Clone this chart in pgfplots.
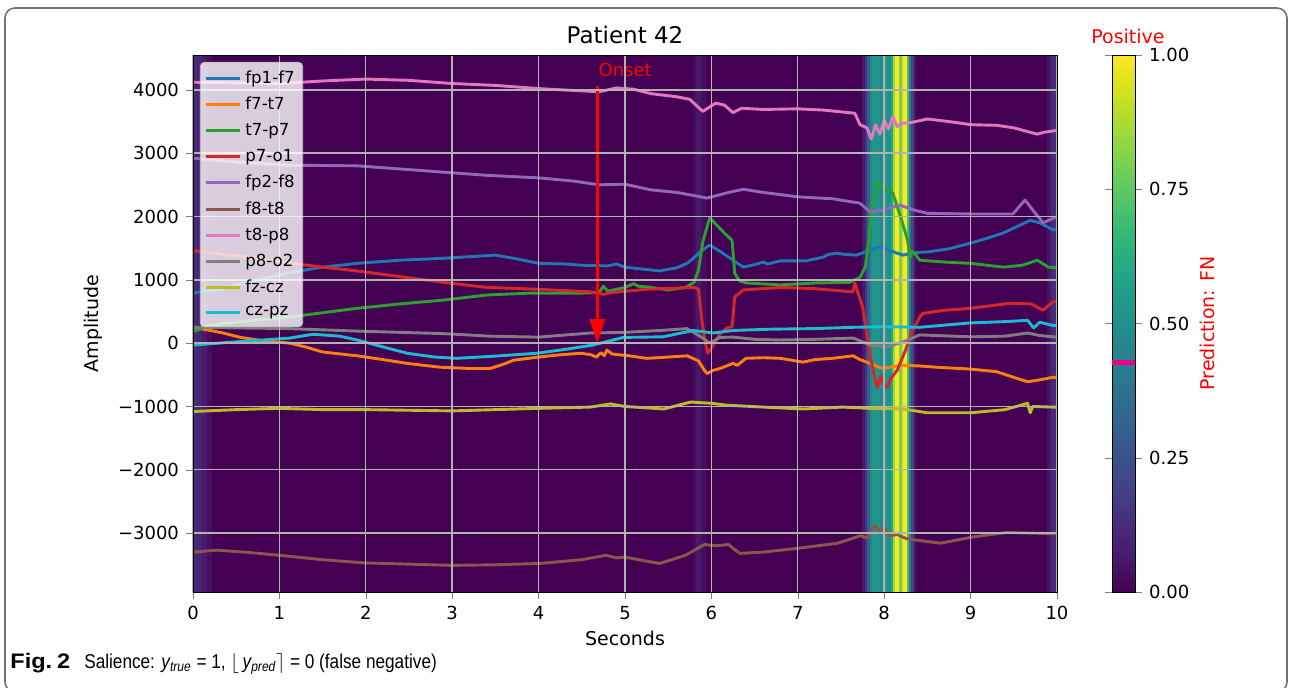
\documentclass[border=0pt]{standalone}
\usepackage{fontspec}
\setmainfont{DejaVu Sans}
\newfontfamily\capfont{Liberation Sans}[FakeStretch=0.86]
\newfontfamily\capbold{Liberation Sans Bold}[FakeStretch=1.12]
\usepackage{pgfplots}
\pgfplotsset{compat=1.18}
\usetikzlibrary{arrows.meta}

\definecolor{cblue}{HTML}{1F77B4}
\definecolor{corange}{HTML}{FF7F0E}
\definecolor{cgreen}{HTML}{2CA02C}
\definecolor{cred}{HTML}{D62728}
\definecolor{cpurple}{HTML}{9467BD}
\definecolor{cbrown}{HTML}{8C564B}
\definecolor{cpink}{HTML}{E377C2}
\definecolor{cgray}{HTML}{7F7F7F}
\definecolor{colive}{HTML}{BCBD22}
\definecolor{ccyan}{HTML}{17BECF}

\begin{document}
\begin{tikzpicture}
\useasboundingbox (-96.5pt,-47.5pt) rectangle (549.5pt,296pt);
\begin{axis}[
    axis on top,
    scale only axis,
    width=432pt, height=268.5pt,
    xmin=0, xmax=10, ymin=-3930, ymax=4550,
    xtick={0,1,...,10},
    ytick={-3000,-2000,-1000,0,1000,2000,3000,4000},
    yticklabels={−3000,−2000,−1000,0,1000,2000,3000,4000},
    /pgf/number format/assume math mode=true,
    tick label style={font=\fontsize{9}{11}\selectfont},
    tick align=outside, tick pos=left,
    major tick length=3.5pt,
    grid=major,
    major grid style={color=black!30, line width=0.7pt},
    title={Patient 42},
    title style={font=\fontsize{11.5}{13}\selectfont, at={(axis description cs:0.5,1.0149)}, anchor=center},
    xlabel={Seconds},
    xlabel style={font=\fontsize{9.5}{11}\selectfont, at={(axis description cs:0.5,-0.0857)}, anchor=center},
    ylabel={Amplitude},
    ylabel style={font=\fontsize{9.5}{11}\selectfont, at={(axis description cs:-0.1157,0.5)}, anchor=center},
    colormap/viridis,
    point meta min=0, point meta max=1,
    colorbar,
    colorbar style={
        at={(parent axis.north east)}, anchor=north west, xshift=19pt,
        width=11.5pt,
        ytick={0,0.25,0.5,0.75,1},
        yticklabels={0.00,0.25,0.50,0.75,1.00},
        tick align=outside, major tick length=3.5pt,
        yticklabel pos=right,
        tick label style={font=\fontsize{9}{11}\selectfont},
        ylabel={Prediction: FN},
        ylabel style={text=red, font=\fontsize{9.5}{11}\selectfont, at={(axis description cs:4.13,0.5)}, anchor=center},
    },
    legend style={at={(axis description cs:0.008,0.987)}, anchor=north west,
        font=\fontsize{8.3}{10}\selectfont, fill=white, fill opacity=0.8,
        draw opacity=1, text opacity=1, draw=black!25, rounded corners=2pt,
        row sep=1.4pt, inner sep=2pt},
    legend cell align=left,
    every axis plot/.append style={line width=1.45pt, line join=round},
]

% salience map behind the traces
\addplot[surf, shader=flat corner, mesh/cols=31,
    point meta=explicit, forget plot] coordinates {
(0,-3930) [0.12] (0.06,-3930) [0.10] (0.12,-3930) [0.07] (0.18,-3930) [0.03]
(0.24,-3930) [0] (5.8,-3930) [0.03] (5.84,-3930) [0.06] (5.9,-3930) [0.03]
(5.95,-3930) [0] (7.76,-3930) [0.06] (7.79,-3930) [0.15] (7.82,-3930) [0.3]
(7.85,-3930) [0.45] (7.87,-3930) [0.52] (7.97,-3930) [0.47] (8.0,-3930) [0.55]
(8.05,-3930) [0.5] (8.1,-3930) [0.6] (8.12,-3930) [0.85] (8.14,-3930) [1.0]
(8.19,-3930) [0.8] (8.22,-3930) [0.9] (8.235,-3930) [1.0] (8.28,-3930) [0.7]
(8.3,-3930) [0.4] (8.33,-3930) [0.2] (8.36,-3930) [0.05] (8.39,-3930) [0]
(9.9,-3930) [0.05] (9.95,-3930) [0.12] (10,-3930) [0.15]
(0,4550) [0.12] (0.06,4550) [0.10] (0.12,4550) [0.07] (0.18,4550) [0.03]
(0.24,4550) [0] (5.8,4550) [0.03] (5.84,4550) [0.06] (5.9,4550) [0.03]
(5.95,4550) [0] (7.76,4550) [0.06] (7.79,4550) [0.15] (7.82,4550) [0.3]
(7.85,4550) [0.45] (7.87,4550) [0.52] (7.97,4550) [0.47] (8.0,4550) [0.55]
(8.05,4550) [0.5] (8.1,4550) [0.6] (8.12,4550) [0.85] (8.14,4550) [1.0]
(8.19,4550) [0.8] (8.22,4550) [0.9] (8.235,4550) [1.0] (8.28,4550) [0.7]
(8.3,4550) [0.4] (8.33,4550) [0.2] (8.36,4550) [0.05] (8.39,4550) [0]
(9.9,4550) [0.05] (9.95,4550) [0.12] (10,4550) [0.15]
};

% fp1-f7
\addplot[cblue] coordinates {(0,790) (0.3,850) (0.7,980) (1.1,1110) (1.5,1200) (1.9,1260) (2.4,1310) (2.9,1340) (3.2,1365) (3.5,1390) (3.75,1330) (4.0,1260) (4.3,1250) (4.5,1230) (4.8,1220) (4.9,1250) (5.0,1200) (5.2,1170) (5.4,1140) (5.6,1190) (5.72,1260) (5.8,1350) (5.87,1440) (5.98,1550) (6.1,1450) (6.25,1310) (6.37,1200) (6.5,1240) (6.6,1280) (6.65,1250) (6.8,1300) (7.1,1300) (7.3,1360) (7.35,1400) (7.45,1420) (7.55,1400) (7.68,1390) (7.8,1450) (7.95,1520) (8.05,1470) (8.15,1420) (8.22,1390) (8.35,1430) (8.5,1440) (8.75,1490) (9.0,1580) (9.2,1660) (9.38,1740) (9.55,1850) (9.69,1940) (9.8,1900) (9.9,1830) (9.95,1790) (10,1800)};
% f7-t7
\addplot[corange] coordinates {(0,250) (0.2,200) (0.35,160) (0.55,90) (0.8,40) (1.12,0) (1.3,-60) (1.5,-140) (1.9,-200) (2.2,-260) (2.48,-320) (2.86,-380) (3.2,-400) (3.44,-400) (3.6,-330) (3.71,-270) (4.0,-220) (4.2,-190) (4.48,-160) (4.6,-180) (4.67,-220) (4.72,-150) (4.76,-200) (4.79,-110) (4.85,-170) (4.9,-180) (5.05,-200) (5.25,-240) (5.5,-220) (5.72,-200) (5.85,-280) (5.92,-430) (5.95,-480) (6.02,-430) (6.1,-400) (6.25,-320) (6.3,-350) (6.4,-240) (6.6,-230) (6.8,-240) (7.06,-300) (7.2,-260) (7.4,-240) (7.64,-200) (7.72,-260) (7.84,-320) (7.92,-370) (7.99,-400) (8.1,-370) (8.22,-350) (8.4,-360) (8.6,-380) (9.0,-410) (9.3,-450) (9.5,-540) (9.66,-610) (9.8,-580) (9.95,-540) (10,-540)};
% t7-p7
\addplot[cgreen] coordinates {(0,180) (0.15,260) (0.35,310) (0.7,360) (1.1,410) (1.5,480) (1.9,550) (2.4,620) (2.9,680) (3.4,760) (3.9,790) (4.5,790) (4.7,800) (4.75,900) (4.8,820) (5.0,880) (5.1,940) (5.15,900) (5.3,880) (5.5,840) (5.7,880) (5.8,960) (5.85,1150) (5.9,1600) (5.98,1980) (6.05,1880) (6.15,1740) (6.24,1620) (6.27,1100) (6.33,980) (6.41,950) (6.8,920) (7.2,950) (7.6,960) (7.72,1040) (7.78,1200) (7.82,1600) (7.86,2200) (7.92,2540) (8.0,2450) (8.1,2370) (8.2,1950) (8.27,1630) (8.3,1350) (8.32,1450) (8.35,1420) (8.41,1310) (8.7,1280) (9.0,1260) (9.38,1200) (9.6,1230) (9.77,1310) (9.9,1200) (10,1190)};
% p7-o1
\addplot[cred] coordinates {(0,1460) (0.5,1380) (1.1,1270) (1.5,1200) (1.9,1140) (2.4,1050) (2.9,960) (3.4,880) (4.0,850) (4.6,810) (4.75,770) (4.85,800) (5.25,850) (5.8,880) (5.85,850) (5.89,360) (5.93,0) (5.96,-160) (6.02,-30) (6.1,150) (6.18,240) (6.24,260) (6.27,730) (6.37,840) (6.8,880) (7.2,860) (7.64,810) (7.66,950) (7.75,570) (7.84,-220) (7.9,-600) (7.92,-700) (7.96,-520) (7.99,-640) (8.03,-700) (8.08,-550) (8.15,-430) (8.25,-100) (8.33,200) (8.41,410) (8.45,470) (8.7,520) (9.0,550) (9.46,630) (9.7,620) (9.84,520) (9.95,650) (10,660)};
% fp2-f8
\addplot[cpurple] coordinates {(0,2920) (0.5,2860) (1.1,2810) (1.9,2800) (2.4,2750) (2.9,2700) (3.4,2650) (4.0,2610) (4.4,2560) (4.7,2500) (5.0,2510) (5.3,2420) (5.6,2380) (5.8,2330) (5.95,2290) (6.2,2380) (6.37,2430) (6.6,2380) (7.0,2310) (7.4,2280) (7.72,2210) (7.84,2070) (8.0,2110) (8.18,2180) (8.35,2100) (8.5,2050) (9.0,2040) (9.49,2040) (9.63,2260) (9.75,2050) (9.84,1900) (9.95,1970) (10,2000)};
% f8-t8
\addplot[cbrown] coordinates {(0,-3300) (0.27,-3270) (0.6,-3300) (1.0,-3350) (1.5,-3420) (1.98,-3470) (2.5,-3490) (3.0,-3510) (3.5,-3500) (4.0,-3480) (4.5,-3420) (4.78,-3350) (4.9,-3390) (5.0,-3380) (5.2,-3430) (5.4,-3480) (5.7,-3350) (5.92,-3180) (6.05,-3200) (6.2,-3180) (6.25,-3240) (6.33,-3320) (6.6,-3300) (7.0,-3240) (7.46,-3160) (7.73,-3040) (7.8,-3080) (7.85,-2950) (7.9,-2880) (7.95,-3000) (8.0,-2900) (8.05,-3050) (8.15,-3020) (8.26,-3090) (8.65,-3160) (9.03,-3060) (9.42,-2990) (9.7,-3000) (9.95,-3010) (10,-3010)};
% t8-p8
\addplot[cpink] coordinates {(0,4120) (0.5,4110) (1.0,4100) (1.5,4140) (2.0,4170) (2.5,4150) (3.0,4100) (3.5,4070) (4.0,4020) (4.4,3990) (4.7,3970) (4.9,4030) (5.1,4010) (5.3,3940) (5.6,3890) (5.75,3850) (5.9,3660) (6.05,3790) (6.15,3760) (6.25,3640) (6.35,3710) (6.6,3690) (7.0,3700) (7.3,3680) (7.66,3630) (7.72,3450) (7.8,3400) (7.85,3220) (7.9,3450) (7.95,3300) (8.0,3520) (8.05,3380) (8.1,3580) (8.15,3420) (8.2,3470) (8.3,3480) (8.5,3540) (8.8,3490) (9.0,3450) (9.3,3440) (9.5,3400) (9.77,3300) (9.85,3330) (10,3360)};
% p8-o2
\addplot[cgray] coordinates {(0,250) (0.5,240) (1.1,230) (1.9,190) (2.4,170) (2.9,150) (3.44,110) (4.0,95) (4.6,160) (5.0,170) (5.4,200) (5.72,230) (5.89,90) (5.98,0) (6.1,90) (6.25,95) (6.5,60) (6.8,50) (7.2,60) (7.64,80) (7.84,-30) (8.03,-60) (8.22,20) (8.41,130) (9.0,100) (9.4,110) (9.66,160) (9.8,120) (9.95,100) (10,100)};
% fz-cz
\addplot[colive] coordinates {(0,-1080) (0.5,-1050) (1.0,-1030) (1.5,-1050) (2.0,-1050) (2.5,-1060) (3.0,-1070) (3.5,-1050) (4.0,-1030) (4.6,-1010) (4.83,-960) (5.0,-1000) (5.45,-1040) (5.76,-930) (6.0,-950) (6.18,-980) (6.6,-1010) (7.06,-1040) (7.52,-1010) (7.83,-1030) (8.22,-1040) (8.5,-1100) (9.0,-1100) (9.4,-1050) (9.66,-950) (9.69,-1100) (9.72,-1000) (9.95,-1010) (10,-1010)};
% cz-pz
\addplot[ccyan] coordinates {(0,-30) (0.5,20) (1.12,80) (1.39,140) (1.7,110) (1.9,50) (2.2,-60) (2.48,-160) (2.8,-220) (3.05,-240) (3.44,-210) (3.98,-160) (4.3,-100) (4.63,-30) (4.98,90) (5.44,100) (5.79,200) (6.02,160) (6.25,200) (6.68,220) (7.2,230) (7.64,250) (8.0,260) (8.41,250) (9.0,320) (9.4,340) (9.66,360) (9.7,290) (9.73,240) (9.8,330) (9.95,280) (10,280)};
\legend{fp1-f7,f7-t7,t7-p7,p7-o1,fp2-f8,f8-t8,t8-p8,p8-o2,fz-cz,cz-pz}

\draw[red, line width=1.5pt, -{Triangle[length=12pt,width=7.5pt]}] (axis cs:4.68,4060) -- (axis cs:4.68,0);
\node[text=red, anchor=west, font=\fontsize{9}{11}\selectfont, inner sep=0pt] at (axis cs:4.69,4310) {Onset};
\end{axis}

% colorbar extras (colorbar box spans x 459.5pt..471pt)
\draw[magenta, line width=2.3pt] (459.5pt,114.9pt) -- (471pt,114.9pt);
\node[text=red, font=\fontsize{9.5}{11}\selectfont] at (467.5pt,278pt) {Positive};

\draw[black!55, line width=0.8pt, rounded corners=5pt] (-94pt,-50pt) rectangle (547pt,292pt);
\node[anchor=west, inner sep=0pt, font=\capfont\fontsize{10}{12}\selectfont] at (-91.5pt,-36pt)
  {{\capbold\fontsize{10.5}{12}\selectfont Fig.\hspace{2.5pt}2}\hspace{7pt}Salience: {\itshape y}\textsubscript{\itshape true} = 1, $\lfloor$\,{\itshape y}\textsubscript{\itshape pred}$\rceil$ = 0 (false negative)};
\end{tikzpicture}
\end{document}
